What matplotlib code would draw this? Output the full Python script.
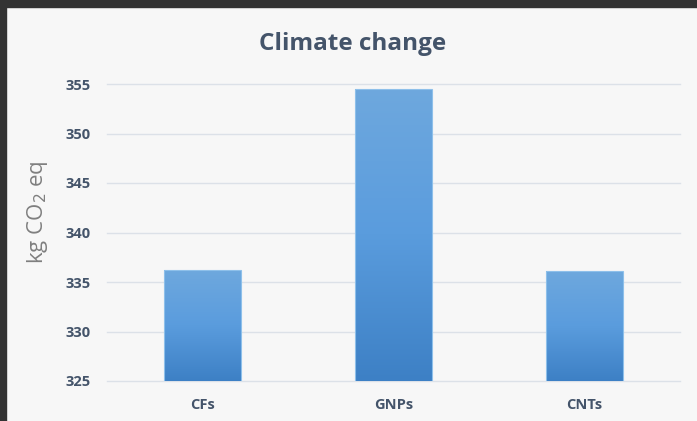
import numpy as np
import matplotlib
matplotlib.use("Agg")
import matplotlib.pyplot as plt
from matplotlib.patches import Rectangle
from matplotlib.colors import LinearSegmentedColormap

categories = ["CFs", "GNPs", "CNTs"]
values = [336.2, 354.5, 336.1]
yticks = [325, 330, 335, 340, 345, 350, 355]

plt.rcParams['font.family'] = ['Open Sans', 'DejaVu Sans']

W, H = 697, 421
fig = plt.figure(figsize=(W/100, H/100), dpi=100, facecolor="#f7f7f7")
# dark frame on top and left
fig.patches.append(Rectangle((0, 1-7/H), 1, 7/H, transform=fig.transFigure, color="#333333", zorder=0))
fig.patches.append(Rectangle((0, 0), 6/W, 1, transform=fig.transFigure, color="#333333", zorder=0))

ax = fig.add_axes([107/W, 1-381/H, (680-107)/W, (381-84)/H])
ax.set_facecolor("#f7f7f7")
x = np.arange(len(categories))
bars = ax.bar(x, values, width=0.40, bottom=0, color="none", edgecolor="#8ec0ea", linewidth=0.8, zorder=3)

cmap = LinearSegmentedColormap.from_list("g", ["#3d80c5", "#5a9cdd", "#6ea8de"])
grad = np.linspace(0, 1, 256).reshape(-1, 1)
for b in bars:
    bx, bw, bh = b.get_x(), b.get_width(), b.get_height()
    im = ax.imshow(grad, extent=(bx, bx+bw, 325, bh), origin="lower", cmap=cmap,
                   aspect="auto", zorder=2)
    im.set_clip_path(b)
ax.set_aspect("auto")
ax.set_xlim(-0.5, 2.5)
ax.set_ylim(325, 355)

ax.set_yticks(yticks)
ax.set_yticklabels([str(t) for t in yticks])
ax.set_xticks(x)
ax.set_xticklabels(categories)
for s in ax.spines.values():
    s.set_visible(False)
ax.grid(axis="y", color="#dce1e8", linewidth=1.0, zorder=0)
ax.set_axisbelow(True)
for gl in ax.get_ygridlines():
    gl.set_clip_on(False)
ax.tick_params(axis="both", length=0, colors="#44546a", labelsize=10.5)
ax.tick_params(axis="y", pad=12)
ax.tick_params(axis="x", pad=12)
for lab in ax.get_xticklabels() + ax.get_yticklabels():
    lab.set_fontweight("bold")

ax.set_ylabel("kg CO$_2$ eq", color="#7f7f7f", fontsize=16, va="center")
ax.yaxis.set_label_coords(-(107-38)/(680-107), (381-212)/(381-84))
fig.text(353/W, 1-44/H, "Climate change", ha="center", va="center",
         fontsize=17.5, fontweight="bold", color="#44546a")

fig.savefig("out.png", dpi=100, facecolor=fig.get_facecolor())
